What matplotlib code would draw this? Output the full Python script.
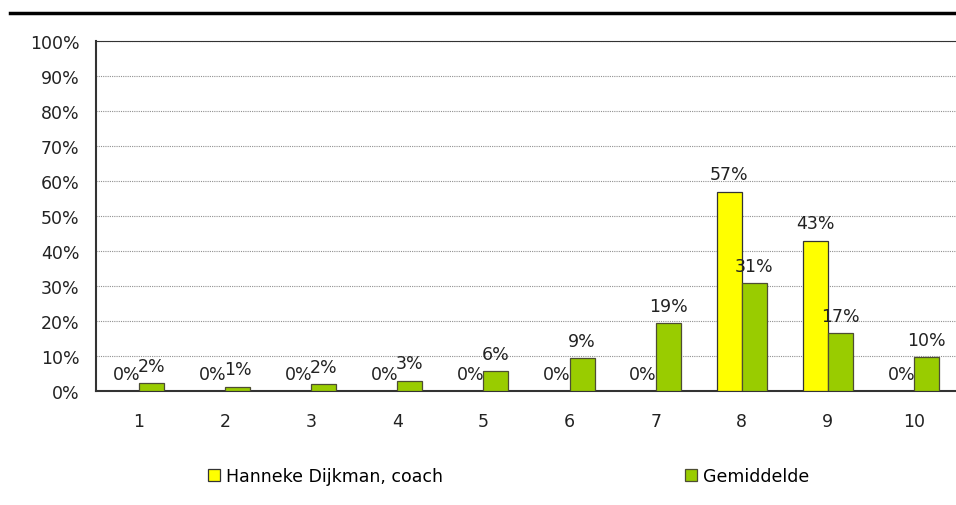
import matplotlib
matplotlib.use("Agg")
import matplotlib.pyplot as plt
import numpy as np
from matplotlib.lines import Line2D

# data
categories = ["1", "2", "3", "4", "5", "6", "7", "8", "9", "10"]
coach = [0, 0, 0, 0, 0, 0, 0, 57, 43, 0]
average = [2.2, 1.2, 2.0, 3.0, 5.7, 9.4, 19.4, 30.8, 16.6, 9.7]
coach_labels = ["0%", "0%", "0%", "0%", "0%", "0%", "0%", "57%", "43%", "0%"]
average_labels = ["2%", "1%", "2%", "3%", "6%", "9%", "19%", "31%", "17%", "10%"]
series_names = ["Hanneke Dijkman, coach", "Gemiddelde"]
yticks = list(range(0, 101, 10))

plt.rcParams["font.family"] = ["DejaVu Sans"]
FS = 12.5

fig = plt.figure(figsize=(9.56, 5.06), dpi=100)
fig.patch.set_facecolor("white")
ax = fig.add_axes([96 / 956, 1 - 392 / 506, 861 / 956, 350 / 506])

x = np.arange(1, len(categories) + 1)
w = 0.29
b1 = ax.bar(x - w / 2, coach, w, color="#ffff00", edgecolor="#333333", lw=0.9,
            label=series_names[0], zorder=3)
b2 = ax.bar(x + w / 2, average, w, color="#99cc00", edgecolor="#4d4d33", lw=0.9,
            label=series_names[1], zorder=3)
ax.bar_label(b1, labels=coach_labels, padding=6, fontsize=FS, color="#222222")
ax.bar_label(b2, labels=average_labels, padding=6, fontsize=FS, color="#222222")

ax.set_xlim(0.5, 10.5)
ax.set_ylim(0, 100)
ax.set_yticks(yticks)
ax.set_yticklabels([f"{t}%" for t in yticks], fontsize=FS)
ax.set_xticks(x)
ax.set_xticklabels(categories, fontsize=FS)
ax.tick_params(axis="both", length=0, colors="#222222")
ax.tick_params(axis="x", pad=15)
ax.tick_params(axis="y", pad=12)
ax.yaxis.grid(True, linestyle=(0, (1, 1)), color="#909090", lw=0.8, zorder=0)
ax.set_axisbelow(True)
ax.spines["right"].set_visible(False)
ax.spines["top"].set_color("#333333")
ax.spines["top"].set_linewidth(0.8)
ax.spines["left"].set_color("#333333")
ax.spines["left"].set_linewidth(1.5)
ax.spines["bottom"].set_color("#333333")
ax.spines["bottom"].set_linewidth(1.5)

# heavy rule across the top of the figure
fig.add_artist(Line2D([10 / 956, 1.0], [1 - 14 / 506] * 2, color="black", lw=2.5))

ax.legend(loc="center left", bbox_to_anchor=(208 / 956, 1 - 477 / 506),
          bbox_transform=fig.transFigure, ncol=2, frameon=False, fontsize=FS,
          handlelength=0.7, handleheight=0.7, handletextpad=0.35,
          columnspacing=13.9, borderpad=0, borderaxespad=0)

fig.savefig("out.png", dpi=100, facecolor="white")
